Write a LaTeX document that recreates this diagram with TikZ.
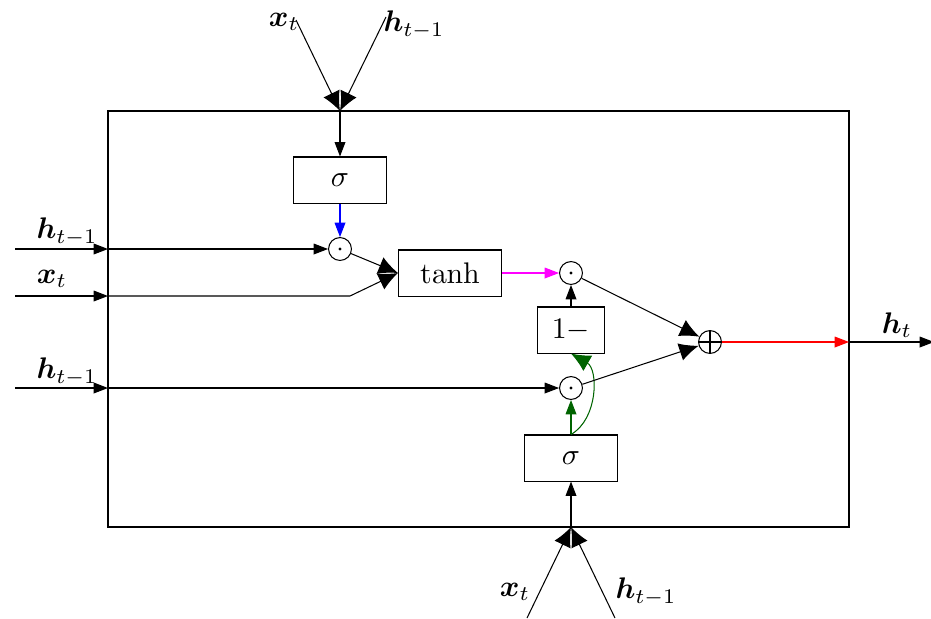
\documentclass[tikz,border=0pt]{standalone}
\usepackage{amsmath,bm}
\usetikzlibrary{arrows.meta,shapes.geometric}
\definecolor{dgreen}{RGB}{0,100,0}
\definecolor{mymag}{RGB}{255,0,255}
\definecolor{myred}{RGB}{255,0,0}
\definecolor{myblue}{RGB}{0,0,255}
\begin{document}
\begin{tikzpicture}[x=0.0118cm,y=-0.0118cm, line width=0.35pt,
 box/.style={draw, rectangle, minimum width=1.097cm, minimum height=0.543cm, inner sep=0},
 dotc/.style={draw, circle, minimum size=0.27cm, inner sep=0, path picture={\fill (path picture bounding box.center) circle (0.55pt);}},
 plusc/.style={draw, circle, minimum size=0.27cm, inner sep=0, path picture={\draw (path picture bounding box.north) -- (path picture bounding box.south) (path picture bounding box.west) -- (path picture bounding box.east);}},
 arr/.style={-{Triangle[length=4.8pt,width=3.6pt]}},
 barr/.style={-{Latex[length=6.5pt,width=6pt]}},
 lbl/.style={inner sep=1pt}
]
\useasboundingbox (0,0) rectangle (931,618);
% outer cell
\draw (108,111) rectangle (849,527);
% top gate
\coordinate (topin) at (340,111);
\node[lbl] (xt1) at (284,22) {$\bm{x}_t$};
\node[lbl] (ht1) at (414,25) {$\bm{h}_{t-1}$};
\coordinate (xt1s) at (296,20);
\coordinate (ht1s) at (386,17);
\draw[barr] (xt1s) -- (topin);
\draw[barr] (ht1s) -- (topin);
\node[box] (sig1) at (340,180) {$\sigma$};
\draw[arr] (topin) -- (sig1);
\node[dotc] (d1) at (340,249) {};
\draw[arr, myblue] (sig1) -- (d1);
% left inputs
\coordinate (l1) at (15,249); \coordinate (b1) at (108,249);
\coordinate (l2) at (15,296); \coordinate (b2) at (108,296); \coordinate (k2) at (350,296);
\coordinate (l3) at (15,388); \coordinate (b3) at (108,388);
\node[lbl] (lh1) at (67,232) {$\bm{h}_{t-1}$};
\node[lbl] (lx2) at (52,279) {$\bm{x}_t$};
\node[lbl] (lh3) at (67,372) {$\bm{h}_{t-1}$};
\node[box, minimum width=1.215cm] (tanh) at (450,273) {$\tanh$};
\draw[arr] (l1) -- (b1);
\draw[arr] (b1) -- (d1);
\draw[arr] (l2) -- (b2);
\draw[barr] (b2) -- (k2) -- (tanh.west);
\draw[barr] (d1) -- (tanh.west);
% right part
\node[dotc] (d2) at (571,273) {};
\draw[arr, mymag] (tanh) -- (d2);
\node[box, minimum width=0.80cm] (om) at (571,330) {$1-$};
\draw[arr] (om) -- (d2);
\node[dotc] (d3) at (571,388) {};
\draw[arr] (l3) -- (b3);
\draw[arr] (b3) -- (d3);
\node[box] (sig2) at (571,458) {$\sigma$};
\draw[arr, dgreen] (sig2) -- (d3);
\draw[barr, dgreen] (sig2.north) to[bend right=60] (om.south);
\node[plusc] (op) at (710,342) {};
\draw[barr] (d2) -- (op);
\draw[barr] (d3) -- (op);
\coordinate (r1) at (849,342); \coordinate (r2) at (934,342);
\draw[arr, myred] (op) -- (r1);
\draw[arr] (r1) -- (r2);
\node[lbl] (lht) at (897,325) {$\bm{h}_t$};
% bottom gate
\coordinate (botin) at (571,527);
\draw[arr] (botin) -- (sig2);
\coordinate (xb) at (527,618); \coordinate (hb) at (615,618);
\draw[barr] (xb) -- (botin);
\draw[barr] (hb) -- (botin);
\node[lbl] (lxb) at (515,592) {$\bm{x}_t$};
\node[lbl] (lhb) at (646,592) {$\bm{h}_{t-1}$};
\end{tikzpicture}
\end{document}
